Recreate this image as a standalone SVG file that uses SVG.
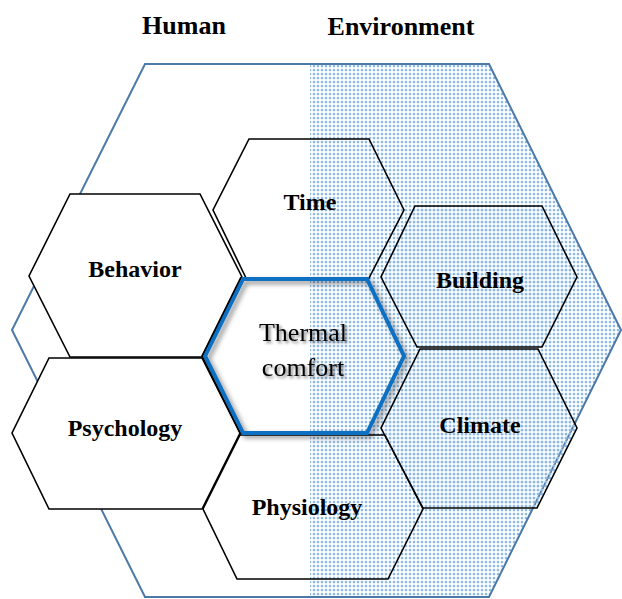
<svg xmlns="http://www.w3.org/2000/svg" width="622" height="599" viewBox="0 0 622 599">
<style>
.hex{fill:none;stroke:#000;stroke-width:1.6;stroke-linejoin:miter}
.bg{fill:#fff;stroke:none}
.dot{fill:url(#dots);stroke:none}
.lbl{font-family:"Liberation Serif","Times New Roman",serif;font-weight:bold;font-size:24px;fill:#000;text-anchor:middle}
.ttl{font-family:"Liberation Serif","Times New Roman",serif;font-weight:bold;font-size:26px;fill:#000;text-anchor:middle}
.core{font-family:"Liberation Serif","Times New Roman",serif;font-size:26px;fill:#000;text-anchor:middle}
</style>
<defs>
<pattern id="dots" patternUnits="userSpaceOnUse" width="4" height="4">
<circle cx="2" cy="2" r="1.5" fill="#c2daf1"/>
<circle cx="2" cy="2" r="0.85" fill="#5b9bd5"/>
</pattern>
<clipPath id="right"><rect x="310" y="0" width="312" height="599"/></clipPath>
<filter id="shadow" x="-20%" y="-20%" width="140%" height="140%">
<feGaussianBlur in="SourceAlpha" stdDeviation="2.5"/>
<feOffset dx="3" dy="3" result="b"/>
<feFlood flood-color="#000" flood-opacity="0.45"/>
<feComposite in2="b" operator="in"/>
<feMerge><feMergeNode/><feMergeNode in="SourceGraphic"/></feMerge>
</filter>
<filter id="tshadow" x="-20%" y="-30%" width="140%" height="160%">
<feGaussianBlur in="SourceAlpha" stdDeviation="1.8"/>
<feOffset dx="2" dy="2" result="b"/>
<feFlood flood-color="#000" flood-opacity="0.5"/>
<feComposite in2="b" operator="in"/>
<feMerge><feMergeNode/><feMergeNode in="SourceGraphic"/></feMerge>
</filter>
</defs>

<g id="titles">
<text class="ttl" x="184" y="34">Human</text>
<text class="ttl" x="401" y="35">Environment</text>
</g>

<g id="outer">
<polygon points="145,64 489,64 621,330 489,597 145,597 12,330" fill="#fff" stroke="none"/>
<polygon points="310,64 489,64 621,330 489,597 310,597" class="dot"/>
<polygon points="145,64 489,64 621,330 489,597 145,597 12,330" fill="none" stroke="#4d79a8" stroke-width="2"/>
</g>

<g id="behavior">
<polygon class="bg" points="70,194 200,194 242,277 202,357 70,357 29,276"/>
<polygon class="hex" points="70,194 200,194 242,277 202,357 70,357 29,276"/>
<text class="lbl" x="135" y="277">Behavior</text>
</g>

<g id="psychology">
<polygon class="bg" points="49,358 202,358 240,433 202,509 49,509 12,433"/>
<polygon class="hex" points="49,358 202,358 240,433 202,509 49,509 12,433"/>
<text class="lbl" x="125" y="436">Psychology</text>
</g>

<g id="time">
<polygon class="bg" points="249,139 369,139 404,210 368,280 247,280 213,210"/>
<polygon class="dot" clip-path="url(#right)" points="249,139 369,139 404,210 368,280 247,280 213,210"/>
<polygon class="hex" points="249,139 369,139 404,210 368,280 247,280 213,210"/>
<text class="lbl" x="310" y="210">Time</text>
</g>

<g id="physiology">
<polygon class="bg" points="240,435 385,435 423,509 388,579 237,579 203,509"/>
<polygon class="dot" clip-path="url(#right)" points="240,435 385,435 423,509 388,579 237,579 203,509"/>
<polygon class="hex" points="240,435 385,435 423,509 388,579 237,579 203,509"/>
<text class="lbl" x="307" y="515">Physiology</text>
</g>

<g id="building">
<polygon class="dot" points="415,206 542,206 577,277 542,347 417,347 381,277"/>
<polygon class="hex" points="415,206 542,206 577,277 542,347 417,347 381,277"/>
<text class="lbl" x="480" y="288">Building</text>
</g>

<g id="climate">
<polygon class="dot" points="420,349 538,349 577,428 537,508 423,508 381,428"/>
<polygon class="hex" points="420,349 538,349 577,428 537,508 423,508 381,428"/>
<text class="lbl" x="480" y="433">Climate</text>
</g>

<g id="thermal-comfort">
<polygon class="bg" points="243,279 367,279 404,356 367,433 243,433 205,356"/>
<polygon class="dot" clip-path="url(#right)" points="243,279 367,279 404,356 367,433 243,433 205,356"/>
<polygon points="243,279 367,279 404,356 367,433 243,433 205,356" fill="none" stroke="#0a6fc2" stroke-width="4" filter="url(#shadow)"/>
<path d="M241,277 L202,356 L241,435" fill="none" stroke="#000" stroke-width="1.6"/>
<text class="core" filter="url(#tshadow)" x="303" y="341">Thermal</text>
<text class="core" filter="url(#tshadow)" x="303" y="376">comfort</text>
</g>
</svg>
